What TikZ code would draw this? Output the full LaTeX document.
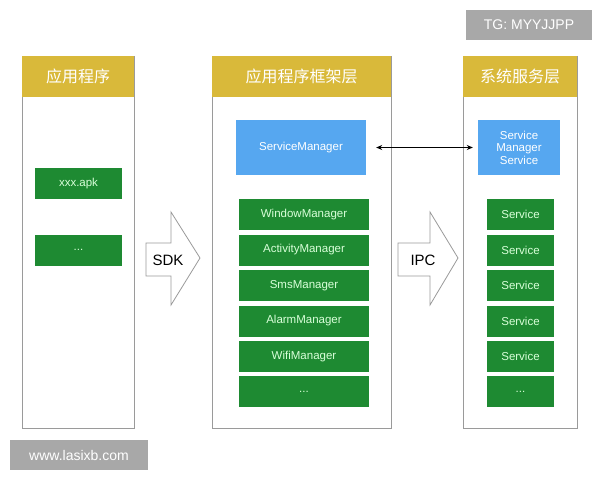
\documentclass[tikz,border=0pt]{standalone}
\usepackage{fontspec}
\usetikzlibrary{arrows.meta}
\setmainfont{Liberation Sans}
\newfontfamily\cjk{Noto Sans CJK SC}
\definecolor{hdr}{HTML}{D9B93A}
\definecolor{grn}{HTML}{1E8A32}
\definecolor{blu}{HTML}{56A7F0}
\definecolor{bdr}{HTML}{9A9A9A}
\definecolor{wm}{HTML}{A8A8A8}
\begin{document}
\begin{tikzpicture}[x=1pt,y=-1pt,
  col/.style={draw=bdr,line width=1pt,fill=white},
  head/.style={fill=hdr,text=white,font=\cjk\fontsize{16}{16}\selectfont},
  g/.style={fill=grn,text=white!85!green,font=\fontsize{11.5}{11.5}\selectfont,inner sep=0pt},
  b/.style={fill=blu,text=white,font=\fontsize{11.5}{12.5}\selectfont,inner sep=0pt,align=center},
  wmk/.style={fill=wm,text=white,font=\fontsize{14}{14}\selectfont,inner sep=0pt},
  bigarrow/.style={draw=bdr,fill=white,line width=0.8pt}]
\useasboundingbox (0,0) rectangle (600,480);
\fill[white] (0,0) rectangle (600,480);
% columns
\draw[col] (22,56) rectangle (134,428);
\draw[col] (212,56) rectangle (391,428);
\draw[col] (463,56) rectangle (577,428);
\node[head,minimum width=112pt,minimum height=41pt] (h1) at (78,76.5) {应用程序};
\node[head,minimum width=179pt,minimum height=41pt] (h2) at (301.5,76.5) {应用程序框架层};
\node[head,minimum width=114pt,minimum height=41pt] (h3) at (520,76.5) {系统服务层};
% col1
\node[g,minimum width=87pt,minimum height=31pt] (a1) at (78.5,183.5) {xxx.apk};
\node[g,minimum width=87pt,minimum height=31pt] (a2) at (78.5,250) {...};
% col2
\node[b,minimum width=130pt,minimum height=55pt] (sm) at (301,147.5) {ServiceManager};
\foreach \t/\y [count=\i] in {WindowManager/214.5,ActivityManager/250,SmsManager/285.5,AlarmManager/321,WifiManager/356.5}
  \node[g,minimum width=130pt,minimum height=31pt] (m\i) at (304,\y) {\t};
\node[g,minimum width=130pt,minimum height=31pt] (m6) at (304,391.5) {...};
% col3
\node[b,minimum width=82pt,minimum height=55pt] (sms) at (519,147.5) {Service\\Manager\\Service};
\foreach \y [count=\i] in {214.5,250,285.5,321,356.5}
  \node[g,minimum width=67pt,minimum height=31pt] (s\i) at (520.5,\y) {Service};
\node[g,minimum width=67pt,minimum height=31pt] (s6) at (520.5,391.5) {...};
% IPC link
\draw[{Stealth[length=6pt,width=5pt]}-{Stealth[length=6pt,width=5pt]},line width=0.9pt] ([xshift=10pt]sm.east) -- ([xshift=-5pt]sms.west);
% big arrows
\draw[bigarrow] (146,243) -- (171,243) -- (171,212) -- (200,258) -- (171,305) -- (171,276) -- (146,276) -- cycle;
\node[font=\fontsize{15}{15}\selectfont] (sdk) at (168,260) {SDK};
\draw[bigarrow] (398,243) -- (430,243) -- (430,212) -- (458,258) -- (430,305) -- (430,276) -- (398,276) -- cycle;
\node[font=\fontsize{15}{15}\selectfont] (ipc) at (423,260) {IPC};
% watermarks
\node[wmk,minimum width=126pt,minimum height=30pt] (w1) at (529,25) {TG: MYYJJPP};
\node[wmk,minimum width=138pt,minimum height=30pt] (w2) at (79,455) {www.lasixb.com};
\end{tikzpicture}
\end{document}
